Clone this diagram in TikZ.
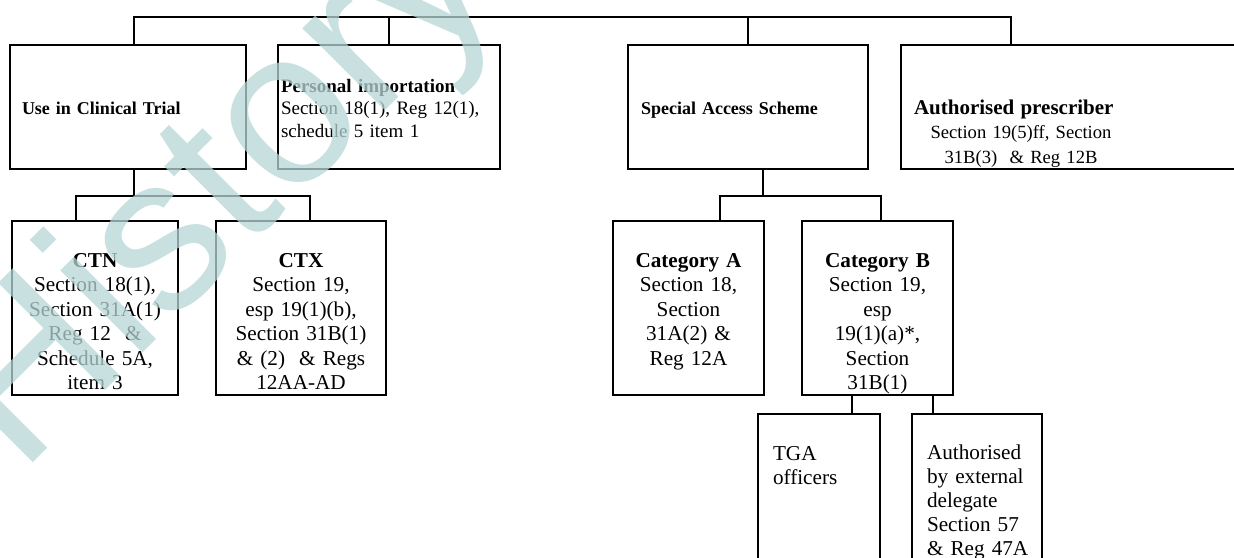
\documentclass[tikz,border=0pt]{standalone}
\usepackage{fontspec}
\setmainfont{Liberation Serif}
\newfontfamily\markfont{Liberation Sans}
\definecolor{markteal}{RGB}{182,214,214}

\tikzset{
  chartbox/.style={draw, line width=1pt, anchor=north, inner ysep=0pt},
  upperbox/.style={chartbox, align=left, font=\fontsize{9}{11.25}\selectfont,
    text height=34.5pt, text depth=27.5pt},
  lowerbox/.style={chartbox, align=center, inner xsep=0pt,
    font=\fontsize{10.6}{12.25}\selectfont, text height=23pt, text depth=64pt},
  tailbox/.style={chartbox, align=left, inner xsep=7.5pt,
    font=\fontsize{10.6}{12}\selectfont, text height=23pt, text depth=100pt},
  link/.style={line width=1pt}
}

\begin{document}
\begin{tikzpicture}[x=0.5pt, y=-0.5pt]
    \useasboundingbox (0,0) rectangle (1234,557);
    % first row
    \node[upperbox, inner xsep=6pt, text width=106pt] (trial) at (128,44)
        {\textbf{Use in Clinical Trial}};
    \node[upperbox, inner xsep=1.5pt, text width=108pt, text height=23.5pt, text depth=38.5pt,
          font=\fontsize{9.5}{11.25}\selectfont] (personal) at (389,44)
        {\textbf{Personal importation}\\
         \makebox[108pt][s]{Section 18(1), Reg 12(1),}\\
         schedule 5 item 1};
    \node[upperbox, inner xsep=6.5pt, text width=107pt] (sas) at (748,44)
        {\textbf{Special Access Scheme}};
    \node[upperbox, anchor=north west, inner xsep=6.5pt, text width=200pt,
          font=\fontsize{9.3}{12.25}\selectfont] (prescriber) at (900,44)
        {{\fontsize{10.5}{12.25}\selectfont\textbf{Authorised prescriber}}\\
         \makebox[107pt]{Section 19(5)ff, Section}\\
         \makebox[107pt]{31B(3)\ \ \& Reg 12B}};
    % second row
    \node[lowerbox, text width=83pt] (ctn) at (95,220)
        {\textbf{CTN}\\ Section 18(1),\\ Section 31A(1)\\ Reg 12\ \ \&\\ Schedule 5A,\\ item 3};
    \node[lowerbox, text width=85pt] (ctx) at (301,220)
        {\textbf{CTX}\\ Section 19,\\ esp 19(1)(b),\\ Section 31B(1)\\ \& (2)\ \ \& Regs\\ 12AA-AD};
    \node[lowerbox, text width=75.5pt] (cata) at (688.5,220)
        {\textbf{Category A}\\ Section 18,\\ Section\\ 31A(2) \&\\ Reg 12A};
    \node[lowerbox, text width=75.5pt] (catb) at (877.5,220)
        {\textbf{Category B}\\ Section 19,\\ esp\\ 19(1)(a)*,\\ Section\\ 31B(1)};
    % third row
    \node[tailbox, text width=46pt] (tga) at (819,413)
        {TGA\\ officers};
    \node[tailbox, text width=50pt, text height=22.5pt] (ext) at (977,413)
        {Authorised\\ \makebox[49pt][s]{by external}\\ delegate\\
         \makebox[49pt][s]{Section 57}\\ \makebox[49pt][s]{\& Reg 47A}};
    % connectors
    \draw[link] ([xshift=3pt]trial.north) -- ++(0,13.5pt) -| ([xshift=55.5pt]prescriber.north west);
    \draw[link] (personal.north) -- ++(0,13.5pt);
    \draw[link] (sas.north) -- ++(0,13.5pt);
    \draw[link] ([xshift=3pt]trial.south) -- ++(0,-13pt) coordinate (ctjoin);
    \draw[link] ([xshift=-9.5pt]ctn.north) |- (ctjoin) -| ([xshift=4.5pt]ctx.north);
    \draw[link] ([xshift=7.5pt]sas.south) -- ++(0,-13pt) coordinate (sasjoin);
    \draw[link] ([xshift=15.75pt]cata.north) |- (sasjoin) -| ([xshift=1.75pt]catb.north);
    \draw[link] ([xshift=-12.75pt]catb.south) -- ([xshift=16.5pt]tga.north);
    \draw[link] ([xshift=27.75pt]catb.south) -- ([xshift=-22pt]ext.north);
    % watermark
    \node[font=\markfont\fontsize{110}{110}\selectfont, text=markteal, opacity=.75,
          rotate=45, anchor=base west, inner sep=0pt] (wmark) at (20,476) {History};
\end{tikzpicture}
\end{document}
